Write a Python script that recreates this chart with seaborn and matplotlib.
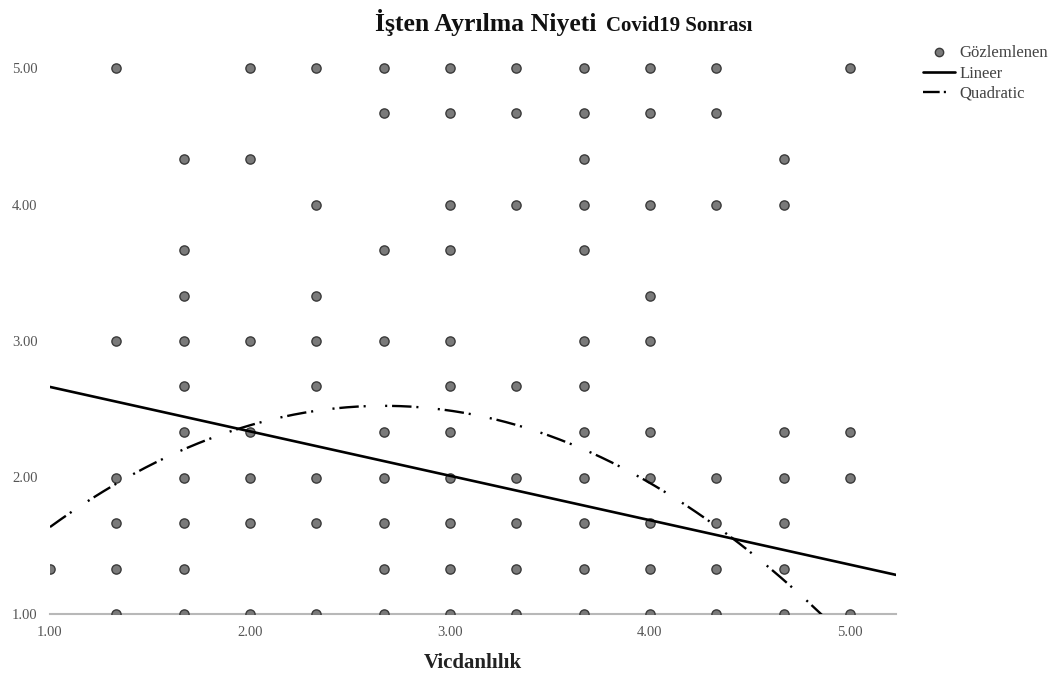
import numpy as np
import pandas as pd
import matplotlib
matplotlib.use("Agg")
import matplotlib.pyplot as plt
import seaborn as sns
from matplotlib.lines import Line2D

# ---- data ----
# observed unique (Vicdanlılık, İşten Ayrılma Niyeti) combinations, one list per y level
y_500 = [1.33, 2.00, 2.33, 2.67, 3.00, 3.33, 3.67, 4.00, 4.33, 5.00]
y_467 = [2.67, 3.00, 3.33, 3.67, 4.00, 4.33]
y_433 = [1.67, 2.00, 3.67, 4.67]
y_400 = [2.33, 3.00, 3.33, 3.67, 4.00, 4.33, 4.67]
y_367 = [1.67, 2.67, 3.00, 3.67]
y_333 = [1.67, 2.33, 4.00]
y_300 = [1.33, 1.67, 2.00, 2.33, 2.67, 3.00, 3.67, 4.00]
y_267 = [1.67, 2.33, 3.00, 3.33, 3.67]
y_233 = [1.67, 2.00, 2.67, 3.00, 3.67, 4.00, 4.67, 5.00]
y_200 = [1.33, 1.67, 2.00, 2.33, 2.67, 3.00, 3.33, 3.67, 4.00, 4.33, 4.67, 5.00]
y_167 = [1.33, 1.67, 2.00, 2.33, 2.67, 3.00, 3.33, 3.67, 4.00, 4.33, 4.67]
y_133 = [1.00, 1.33, 1.67, 2.67, 3.00, 3.33, 3.67, 4.00, 4.33, 4.67]
y_100 = [1.33, 1.67, 2.00, 2.33, 2.67, 3.00, 3.33, 3.67, 4.00, 4.33, 4.67, 5.00]
rows = {5.00: y_500, 4.67: y_467, 4.33: y_433, 4.00: y_400, 3.67: y_367,
        3.33: y_333, 3.00: y_300, 2.67: y_267, 2.33: y_233, 2.00: y_200,
        1.67: y_167, 1.33: y_133, 1.00: y_100}

# fitted curves (coefficients)
linear_coef = [2.989, -0.3255]            # a + b x
quad_coef = [0.2535, 1.7025, -0.319]      # a + b x + c x^2

tick_vals = [1.0, 2.0, 3.0, 4.0, 5.0]
tick_labels = ["1.00", "2.00", "3.00", "4.00", "5.00"]
title_main = "İşten Ayrılma Niyeti"
title_sub = "Covid19 Sonrası"
xlabel = "Vicdanlılık"
legend_labels = ["Gözlemlenen", "Lineer", "Quadratic"]

df = pd.DataFrame([(x, y) for y, xs in rows.items() for x in xs], columns=["x", "y"])

# ---- plot ----
sns.set_theme(style="white")
plt.rcParams["font.family"] = ["Liberation Serif", "DejaVu Serif"]
plt.rcParams["lines.scale_dashes"] = False

W, H = 1059, 688
fig = plt.figure(figsize=(W / 100, H / 100), dpi=100)
xmin, xmax, ymin, ymax = 1.0, 5.23, 1.0, 5.15
left_px, bottom_px = 50, 614
ax = fig.add_axes([left_px / W, (H - bottom_px) / H, 846 / W, (ymax - ymin) * 136.5 / H])

dash_pat = (0, (14, 3.5, 1.5, 14, 1.5, 3.5))
sns.scatterplot(data=df, x="x", y="y", ax=ax, s=44, color="#7a7a7a",
                edgecolor="#3a3a3a", linewidth=1.0, zorder=3)

xs = np.linspace(xmin, xmax, 400)
ax.plot(xs, linear_coef[0] + linear_coef[1] * xs, color="black", lw=1.9, zorder=4)
ax.plot(xs, quad_coef[0] + quad_coef[1] * xs + quad_coef[2] * xs ** 2, color="black",
        lw=1.7, linestyle=dash_pat, zorder=4)

ax.set_xlim(xmin, xmax)
ax.set_ylim(ymin, ymax)
ax.set_xticks(tick_vals)
ax.set_xticklabels(tick_labels)
ax.set_yticks(tick_vals)
ax.set_yticklabels(tick_labels)
for s in ["top", "right", "left"]:
    ax.spines[s].set_visible(False)
ax.spines["bottom"].set_color("#b8b8b8")
ax.spines["bottom"].set_linewidth(1.5)
ax.tick_params(axis="both", which="both", length=3, width=0.8, color="#b8b8b8",
               labelsize=10.5, labelcolor="#555555", direction="out")
ax.tick_params(axis="x", pad=6)
ax.tick_params(axis="y", pad=6)
ax.set_xlabel(xlabel, fontsize=15, fontweight="bold", color="#222222", labelpad=10)
ax.set_ylabel("")
ax.grid(False)

fig.text(375 / W, 1 - 31 / H, title_main, fontsize=18.5, fontweight="bold",
         ha="left", va="baseline", color="#111111")
fig.text(606 / W, 1 - 31 / H, title_sub, fontsize=15, fontweight="bold",
         ha="left", va="baseline", color="#111111")

handles = [
    Line2D([], [], marker="o", linestyle="none", markersize=6,
           markerfacecolor="#7a7a7a", markeredgecolor="#3a3a3a"),
    Line2D([], [], color="black", lw=1.9),
    Line2D([], [], color="black", lw=1.7, linestyle=(0, (12, 3, 1.5, 14))),
]
fig.legend(handles, legend_labels, loc="upper left", bbox_to_anchor=(915 / W, 1 - 37 / H),
           frameon=False, fontsize=12, handlelength=1.9, handletextpad=0.25,
           labelspacing=0.25, borderpad=0, labelcolor="#444444")

fig.savefig("out.png", dpi=100, facecolor="white")
